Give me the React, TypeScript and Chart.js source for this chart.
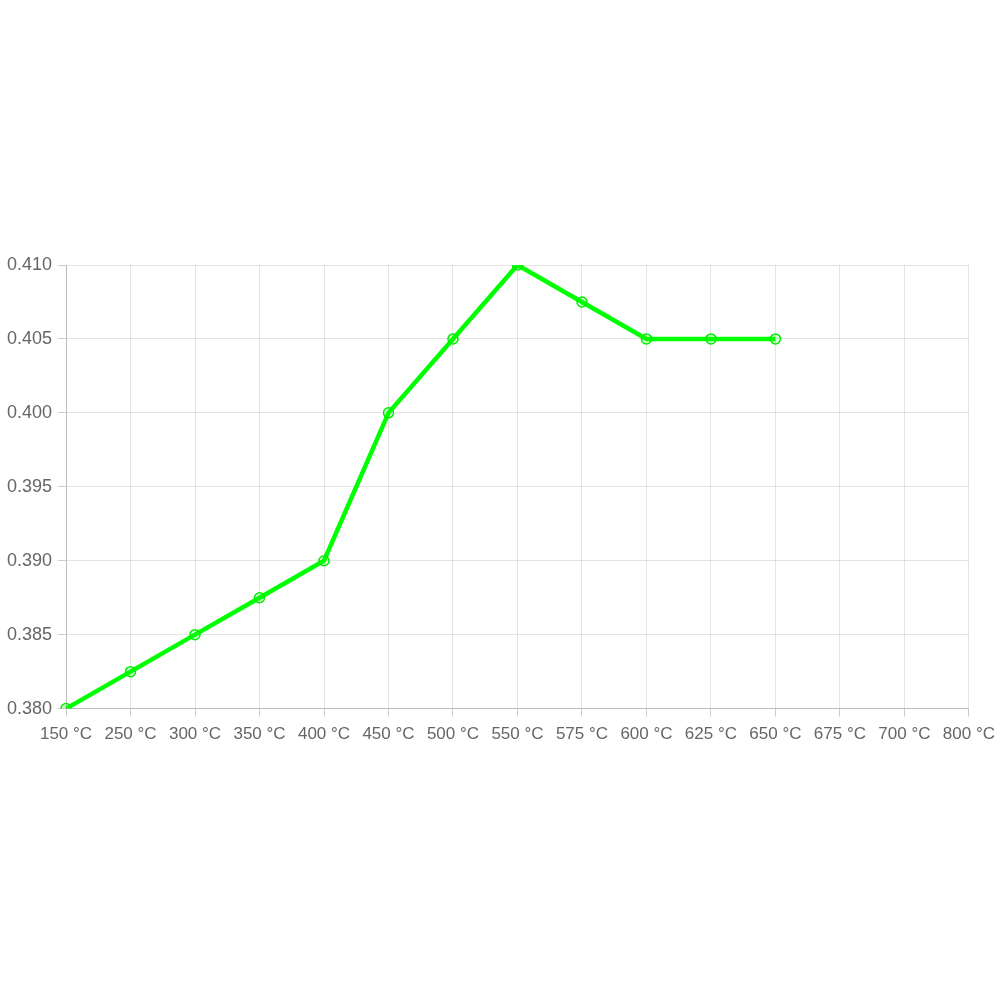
import React, { useEffect, useRef } from "react";
import { Chart, registerables } from "chart.js";

Chart.register(...registerables);

const categories = ["150 °C", "250 °C", "300 °C", "350 °C", "400 °C", "450 °C", "500 °C", "550 °C", "575 °C", "600 °C", "625 °C", "650 °C", "675 °C", "700 °C", "800 °C"];
const values: (number | null)[] = [0.38, 0.3825, 0.385, 0.3875, 0.39, 0.4, 0.405, 0.41, 0.4075, 0.405, 0.405, 0.405, null, null, null];
const yMin = 0.38;
const yMax = 0.41;
const yStep = 0.005;

export default function App() {
  const ref = useRef<HTMLCanvasElement | null>(null);
  useEffect(() => {
    if (!ref.current) return;
    const chart = new Chart(ref.current, {
      type: "line",
      data: {
        labels: categories,
        datasets: [
          {
            data: values,
            borderColor: "#00ff00",
            borderWidth: 4.5,
            backgroundColor: "rgba(0,255,0,0.15)",
            pointBorderColor: "#00ee00",
            pointBackgroundColor: "rgba(0,255,0,0.15)",
            pointBorderWidth: 1.5,
            pointRadius: 5,
            tension: 0,
            fill: false,
          },
        ],
      },
      options: {
        responsive: false,
        animation: false,
        layout: { padding: { top: 265, bottom: 247, left: 1, right: 0 } },
        plugins: { legend: { display: false }, tooltip: { enabled: false } },
        scales: {
          x: {
            offset: false,
            grid: { color: "rgba(0,0,0,0.1)", tickColor: "rgba(0,0,0,0.2)", tickLength: 8, drawTicks: true },
            border: { color: "rgba(0,0,0,0.18)" },
            ticks: {
              color: "#666",
              padding: 8,
              font: { family: "Liberation Sans, Arial, sans-serif", size: 17 },
              maxRotation: 0,
              autoSkip: false,
            },
          },
          y: {
            min: yMin,
            max: yMax,
            grid: { color: "rgba(0,0,0,0.1)", tickColor: "rgba(0,0,0,0.2)", tickLength: 8, drawTicks: true },
            border: { color: "rgba(0,0,0,0.18)" },
            ticks: {
              stepSize: yStep,
              color: "#666",
              padding: 6,
              font: { family: "Liberation Sans, Arial, sans-serif", size: 18 },
              callback: (v: any) => Number(v).toFixed(3),
            },
          },
        },
      },
    });
    return () => chart.destroy();
  }, []);
  return (
    <div style={{ position: "absolute", left: 0, top: 0, width: 1000, height: 1000, overflow: "hidden", background: "#fff" }}>
      <canvas ref={ref} width={1003} height={1000} />
    </div>
  );
}
